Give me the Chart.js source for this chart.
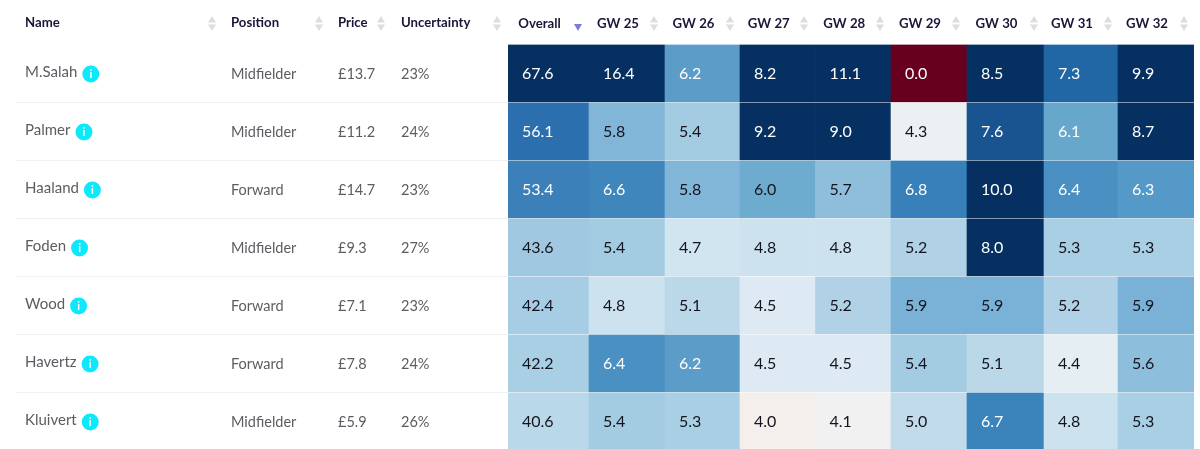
<!DOCTYPE html>
<html>
<head>
<meta charset="utf-8">
<style>
html,body{margin:0;padding:0;background:#fff;overflow:hidden;width:1200px;height:449px}
#wrap{width:1200px;height:450px}
</style>
<script src="https://cdn.jsdelivr.net/npm/chart.js@4/dist/chart.umd.js"></script>
</head>
<body>
<div id="wrap"><canvas id="c" width="1200" height="450"></canvas></div>
<script>
// ---- data ----
const columns = ["Overall","GW 25","GW 26","GW 27","GW 28","GW 29","GW 30","GW 31","GW 32"];
const names = ["M.Salah","Palmer","Haaland","Foden","Wood","Havertz","Kluivert"];
const positions = ["Midfielder","Midfielder","Forward","Midfielder","Forward","Forward","Midfielder"];
const prices = ["£13.7","£11.2","£14.7","£9.3","£7.1","£7.8","£5.9"];
const uncertainty = ["23%","24%","23%","27%","23%","24%","26%"];
const salah    = [67.6,16.4,6.2,8.2,11.1,0.0,8.5,7.3,9.9];
const palmer   = [56.1,5.8,5.4,9.2,9.0,4.3,7.6,6.1,8.7];
const haaland  = [53.4,6.6,5.8,6.0,5.7,6.8,10.0,6.4,6.3];
const foden    = [43.6,5.4,4.7,4.8,4.8,5.2,8.0,5.3,5.3];
const wood     = [42.4,4.8,5.1,4.5,5.2,5.9,5.9,5.2,5.9];
const havertz  = [42.2,6.4,6.2,4.5,4.5,5.4,5.1,4.4,5.6];
const kluivert = [40.6,5.4,5.3,4.0,4.1,5.0,6.7,4.8,5.3];
const rows = [salah,palmer,haaland,foden,wood,havertz,kluivert];

// ---- styling ----
const gwStops = [[0,"#67001f"],[3.9,"#f7eeea"],[4.0,"#f5efec"],[4.1,"#f1f1f1"],[4.3,"#ebf0f3"],[4.4,"#e5eef2"],[4.5,"#deeaf3"],
  [4.7,"#d1e5f0"],[4.8,"#cde2ef"],[5.0,"#c1dbea"],[5.1,"#bad8e8"],[5.2,"#b1d2e6"],[5.3,"#a9cfe5"],[5.4,"#a3cbe2"],
  [5.6,"#8dbfdd"],[5.7,"#8fbedb"],[5.8,"#81b6d8"],[5.9,"#79b2d6"],[6.0,"#6eaccf"],[6.1,"#67a7cc"],[6.2,"#5b9cc8"],
  [6.3,"#5499c7"],[6.4,"#4a90c2"],[6.6,"#3f86bc"],[6.8,"#3780b9"],[7.3,"#2166a5"],[7.6,"#1a5490"],[8.0,"#053061"],[20,"#053061"]];
const overallStops = [[40.6,"#b9d8e9"],[42.2,"#a9cfe4"],[42.4,"#a6cde3"],[43.6,"#a0c9e1"],[53.4,"#3b80b9"],[56.1,"#2c6fae"],[60,"#053061"],[100,"#053061"]];
const whiteTextFromOverall = 50, whiteTextFromGw = 6.1;
const columnEdges = [0,81,157,232,307.5,383,459,536,610,686];
const textColumnX = {name:25, position:231, price:338, uncertainty:401};
const sortMarkX = {Name:212, Position:319, Price:381, Uncertainty:497};
const gwSortMarkX = [654,730,804,880,956,1034,1108,1184];
const FONT = "Lato";

function hexRgb(h){return [1,3,5].map(i=>parseInt(h.substr(i,2),16));}
function colorFor(stops,v){
  if(v<=stops[0][0])return stops[0][1];
  for(let i=1;i<stops.length;i++){
    if(v<=stops[i][0]){
      const [a,ca]=stops[i-1],[b,cb]=stops[i],t=(v-a)/(b-a);
      const A=hexRgb(ca),B=hexRgb(cb);
      return "rgb("+A.map((x,k)=>Math.round(x+(B[k]-x)*t)).join(",")+")";
    }
  }
  return stops[stops.length-1][1];
}

// category scale whose columns have their own widths
class ColumnScale extends Chart.CategoryScale{
  static id="columnScale";
  static defaults=Chart.CategoryScale.defaults;
  edge(i){return this.left+columnEdges[i];}
  getPixelForValue(value){
    const i=value==null?0:Math.round(value);
    return (this.edge(i)+this.edge(i+1))/2;
  }
}
class ColumnBar extends Chart.BarController{
  static id="columnBar";
  static defaults=Chart.BarController.defaults;
  static overrides=Chart.BarController.overrides;
  _calculateBarIndexPixels(i){
    const s=this._cachedMeta.iScale,l=s.edge(i),r=s.edge(i+1);
    return {base:l,head:r,center:(l+r)/2,size:r-l};
  }
}
Chart.register(ColumnScale,ColumnBar);

const tableText={
  id:"tableText",
  afterDraw(chart){
    const c=chart.ctx,y=chart.scales.y;
    c.save();
    c.textBaseline="middle";c.textAlign="left";
    // cell values
    chart.data.datasets.forEach((ds,r)=>{
      const py=y.getPixelForValue(r+0.5);
      chart.getDatasetMeta(r).data.forEach((bar,k)=>{
        const v=rows[r][k];
        const white=k===0?v>=whiteTextFromOverall:(v>=whiteTextFromGw||v===0);
        c.font="400 16px "+FONT;
        c.fillStyle=white?"#ffffff":"#14141e";
        c.fillText(v.toFixed(1),bar.x-bar.width/2+14,py+0.5);
      });
    });
    // left-hand columns
    names.forEach((n,r)=>{
      const py=y.getPixelForValue(r+0.5);
      c.font="400 15px "+FONT;
      c.fillStyle="#5c5c62";
      c.fillText(n,textColumnX.name,py-1);
      const w=c.measureText(n).width;
      c.font="400 14.5px "+FONT;
      c.fillText(positions[r],textColumnX.position,py+1);
      c.fillText(prices[r],textColumnX.price,py+1);
      c.fillText(uncertainty[r],textColumnX.uncertainty,py+1);
      // info badge
      const bx=textColumnX.name+w+13.5;
      c.beginPath();c.arc(bx,py+1,8.5,0,Math.PI*2);c.fillStyle="#0ee8fb";c.fill();
      c.fillStyle="#ffffff";c.textAlign="center";
      c.font="700 11px "+FONT;
      c.fillText("i",bx,py+1.5);
      c.textAlign="left";
    });
    // left-hand headers
    c.font="700 13.2px "+FONT;
    c.fillStyle="#1b1638";
    c.fillText("Name",textColumnX.name,23);
    c.fillText("Position",textColumnX.position,23);
    c.fillText("Price",textColumnX.price,23);
    c.fillText("Uncertainty",textColumnX.uncertainty,23);
    // sort marks
    const tri=(x,top,bot,col)=>{c.beginPath();c.moveTo(x-4,bot);c.lineTo(x+4,bot);c.lineTo(x,top);c.closePath();c.fillStyle=col;c.fill();};
    [...Object.values(sortMarkX),...gwSortMarkX].forEach(x=>{tri(x,16,22.5,"#dcdde0");tri(x,31,24.5,"#dcdde0");});
    tri(578,31,24,"#7c7cd6");
    c.restore();
  }
};

new Chart(document.getElementById("c"),{
  type:"columnBar",
  data:{
    labels:columns,
    datasets:rows.map((row,r)=>({
      label:names[r],
      data:row.map(()=>[r,r+1]),
      backgroundColor:ctx=>{
        const v=rows[r][ctx.dataIndex];
        return ctx.dataIndex===0?colorFor(overallStops,v):colorFor(gwStops,v);
      },
      borderWidth:0,
      grouped:false,
      categoryPercentage:1,
      barPercentage:1
    }))
  },
  options:{
    responsive:false,
    animation:false,
    devicePixelRatio:1,
    layout:{padding:{left:16,right:6,top:0,bottom:0}},
    plugins:{legend:{display:false},tooltip:{enabled:false},title:{display:false}},
    scales:{
      x:{
        type:"columnScale",
        position:"top",
        offset:true,
        border:{display:false},
        grid:{display:false},
        afterFit(scale){scale.height=44;},
        ticks:{
          autoSkip:false,maxRotation:0,minRotation:0,
          labelOffset:-9,padding:4,
          color:"#1b1638",
          font:{family:FONT,size:13.2,weight:"700",lineHeight:"16px"}
        }
      },
      y:{
        type:"linear",
        reverse:true,min:0,max:7,
        border:{display:false},
        grid:{
          z:1,
          color:"rgba(255,255,255,0.5)",
          tickColor:ctx=>ctx.tick&&ctx.tick.value===0?"rgba(0,0,0,0)":"#eef0f2",
          tickLength:492,
          lineWidth:1
        },
        ticks:{display:false,stepSize:1}
      }
    }
  },
  plugins:[tableText]
});
</script>
</body>
</html>
